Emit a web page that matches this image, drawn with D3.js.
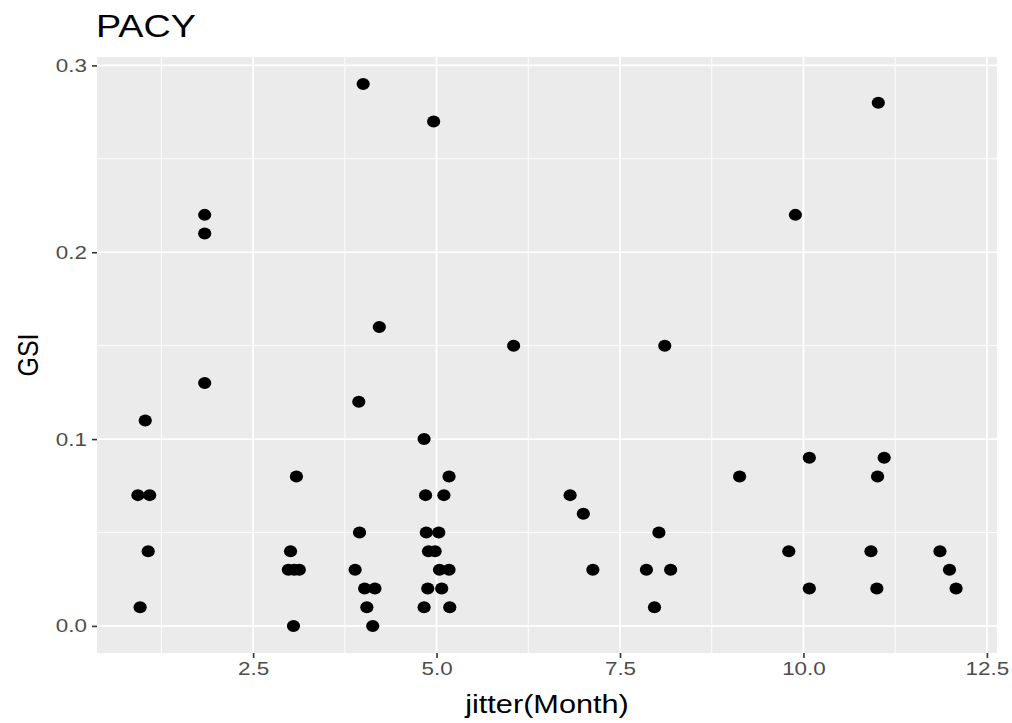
<!DOCTYPE html>
<html>
<head>
<meta charset="utf-8">
<script src="https://cdn.jsdelivr.net/npm/d3@7"></script>
<style>
  html, body { margin: 0; padding: 0; background: #ffffff; }
  svg { display: block; }
  text { font-family: "Liberation Sans", Arial, Helvetica, sans-serif; }
</style>
</head>
<body>
<svg id="chart" width="1012" height="723"></svg>
<script>
// GSI by (jittered) month for PACY
const jitterMonth = [
  0.93, 1.09, 1.03, 1.07, 0.96,
  1.84, 1.84, 1.84,
  3.09, 3.01, 2.98, 3.06, 3.13, 3.05,
  4.00, 4.22, 3.94, 3.95, 3.89, 4.02, 4.16, 4.05, 4.13,
  4.96, 4.83, 5.17, 4.85, 5.10, 4.86, 5.03, 4.89, 4.98, 5.04, 5.17, 4.88, 5.07, 4.83, 5.18,
  6.05,
  6.82, 7.00, 7.13,
  8.11, 8.03, 7.86, 8.19, 7.97,
  9.13,
  9.89, 10.08, 9.80, 10.08,
  11.02, 11.10, 11.01, 10.92, 11.00,
  11.86, 11.99, 12.08
];
const gsi = [
  0.07, 0.07, 0.11, 0.04, 0.01,
  0.22, 0.21, 0.13,
  0.08, 0.04, 0.03, 0.03, 0.03, 0.00,
  0.29, 0.16, 0.12, 0.05, 0.03, 0.02, 0.02, 0.01, 0.00,
  0.27, 0.10, 0.08, 0.07, 0.07, 0.05, 0.05, 0.04, 0.04, 0.03, 0.03, 0.02, 0.02, 0.01, 0.01,
  0.15,
  0.07, 0.06, 0.03,
  0.15, 0.05, 0.03, 0.03, 0.01,
  0.08,
  0.22, 0.09, 0.04, 0.02,
  0.28, 0.09, 0.08, 0.04, 0.02,
  0.04, 0.03, 0.02
];

const xMajor = [2.5, 5.0, 7.5, 10.0, 12.5];
const xMinor = [1.25, 3.75, 6.25, 8.75, 11.25];
const yMajor = [0.0, 0.1, 0.2, 0.3];
const yMinor = [0.05, 0.15, 0.25];
const xTickLabels = ["2.5", "5.0", "7.5", "10.0", "12.5"];
const yTickLabels = ["0.0", "0.1", "0.2", "0.3"];

const titleText = "PACY";
const xTitle = "jitter(Month)";
const yTitle = "GSI";

const panel = { left: 97, right: 997, top: 57, bottom: 653 };
const stretch = 1.18;

const points = jitterMonth.map((m, i) => ({ m, g: gsi[i] }));

// ggplot-style 5% expansion of the data range
const xExt = d3.extent(jitterMonth), yExt = d3.extent(gsi);
const xPad = (xExt[1] - xExt[0]) * 0.05, yPad = (yExt[1] - yExt[0]) * 0.05;

const x = d3.scaleLinear().domain([xExt[0] - xPad, xExt[1] + xPad]).range([panel.left, panel.right]);
const y = d3.scaleLinear().domain([yExt[0] - yPad, yExt[1] + yPad]).range([panel.bottom, panel.top]);

const svg = d3.select("#chart");

// panel background
svg.append("rect")
  .attr("x", panel.left).attr("y", panel.top)
  .attr("width", panel.right - panel.left).attr("height", panel.bottom - panel.top)
  .attr("fill", "#ebebeb");

const grid = svg.append("g");
// minor grid
grid.selectAll("line.vminor").data(xMinor).join("line")
  .attr("x1", d => x(d)).attr("x2", d => x(d))
  .attr("y1", panel.top).attr("y2", panel.bottom)
  .attr("stroke", "#ffffff").attr("stroke-width", 0.9);
grid.selectAll("line.hminor").data(yMinor).join("line")
  .attr("y1", d => y(d)).attr("y2", d => y(d))
  .attr("x1", panel.left).attr("x2", panel.right)
  .attr("stroke", "#ffffff").attr("stroke-width", 0.9);
// major grid
grid.selectAll("line.vmajor").data(xMajor).join("line")
  .attr("x1", d => x(d)).attr("x2", d => x(d))
  .attr("y1", panel.top).attr("y2", panel.bottom)
  .attr("stroke", "#ffffff").attr("stroke-width", 1.7);
grid.selectAll("line.hmajor").data(yMajor).join("line")
  .attr("y1", d => y(d)).attr("y2", d => y(d))
  .attr("x1", panel.left).attr("x2", panel.right)
  .attr("stroke", "#ffffff").attr("stroke-width", 1.7);

// points
svg.append("g").selectAll("ellipse").data(points).join("ellipse")
  .attr("cx", d => x(d.m)).attr("cy", d => y(d.g))
  .attr("rx", 6.6).attr("ry", 6.0)
  .attr("fill", "#000000");

// x axis
const xAxis = d3.axisBottom(x).tickValues(xMajor)
  .tickFormat((d, i) => xTickLabels[i]).tickSizeOuter(0).tickSizeInner(5).tickPadding(3);
const gx = svg.append("g").attr("transform", `translate(0,${panel.bottom})`).call(xAxis);
gx.select(".domain").remove();
gx.selectAll(".tick line").attr("stroke", "#333333").attr("stroke-width", 1.6);
gx.selectAll(".tick text")
  .attr("fill", "#4d4d4d").attr("font-size", 19).attr("dy", "0.71em")
  .each(function () {
    const t = d3.select(this);
    const yy = +t.attr("y");
    t.attr("y", null).attr("transform", `translate(0,${yy}) scale(${stretch},1)`);
  });

// y axis
const yAxis = d3.axisLeft(y).tickValues(yMajor)
  .tickFormat((d, i) => yTickLabels[i]).tickSizeOuter(0).tickSizeInner(5).tickPadding(4);
const gy = svg.append("g").attr("transform", `translate(${panel.left},0)`).call(yAxis);
gy.select(".domain").remove();
gy.selectAll(".tick line").attr("stroke", "#333333").attr("stroke-width", 1.6);
gy.selectAll(".tick text")
  .attr("fill", "#4d4d4d").attr("font-size", 19)
  .each(function () {
    const t = d3.select(this);
    const xx = +t.attr("x");
    t.attr("x", null).attr("transform", `translate(${xx - 1},0) scale(${stretch},1)`);
  });

// axis titles
svg.append("text")
  .attr("transform", `translate(${(panel.left + panel.right) / 2},713) scale(${stretch},1)`)
  .attr("text-anchor", "middle").attr("font-size", 26).attr("fill", "#000000")
  .text(xTitle);

svg.append("text")
  .attr("transform", `translate(38,${(panel.top + panel.bottom) / 2}) rotate(-90) scale(1,${stretch})`)
  .attr("text-anchor", "middle").attr("font-size", 25).attr("fill", "#000000")
  .text(yTitle);

// plot title
svg.append("text")
  .attr("transform", `translate(${panel.left - 1},37) scale(${stretch},1)`)
  .attr("font-size", 32).attr("fill", "#000000")
  .text(titleText);
</script>
</body>
</html>
